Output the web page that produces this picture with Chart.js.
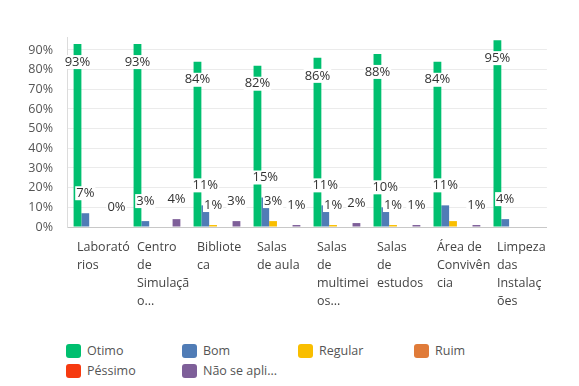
<!DOCTYPE html>
<html>
<head>
<meta charset="utf-8">
<script src="https://cdn.jsdelivr.net/npm/chart.js@4/dist/chart.umd.min.js"></script>
<style>
  body { margin: 0; background: #fff; font-family: "Open Sans", sans-serif; }
  #wrap { position: relative; width: 579px; height: 386px; }
  #chart { position: absolute; left: 0; top: 0; }
  .legend-item { position: absolute; height: 14px; font-size: 12.5px; color: #555; line-height: 14px; white-space: nowrap; }
  .legend-box { position: absolute; left: 0; top: 0; width: 15px; height: 14px; border-radius: 3px; }
  .legend-text { position: absolute; left: 21px; top: 0; }
</style>
</head>
<body>
<div id="wrap">
  <canvas id="chart" width="579" height="312"></canvas>
  <div id="legend"></div>
</div>
<script>
// Categories (already wrapped like the original axis labels)
const categories = [
    ['Laborató', 'rios'],
    ['Centro', 'de', 'Simulaçã', 'o...'],
    ['Bibliote', 'ca'],
    ['Salas', 'de aula'],
    ['Salas', 'de', 'multimei', 'os...'],
    ['Salas', 'de', 'estudos'],
    ['Área de', 'Convivên', 'cia'],
    ['Limpeza', 'das', 'Instalaç', 'ões']
];

// Series values (percent)
const otimo = [93, 93, 84, 82, 86, 88, 84, 95];
const bom = [7, 3, 11, 15, 11, 10, 11, 4];
const regular = [null, null, 1, 3, 1, 1, 3, null];
const ruim = [null, null, null, null, null, null, null, null];
const pessimo = [null, null, null, null, null, null, null, null];
const naoSeAplica = [0, 4, 3, 1, 2, 1, 1, null];

const seriesNames = ['Otimo', 'Bom', 'Regular', 'Ruim', 'Péssimo', 'Não se aplica'];
const seriesValues = [otimo, bom, regular, ruim, pessimo, naoSeAplica];
const seriesColors = ['#00bf6f', '#507cb6', '#f9be00', '#e07b39', '#f63a10', '#7e5f99'];

// y axis ticks
const yTicks = [0, 10, 20, 30, 40, 50, 60, 70, 80, 90];

// value labels that the original leaves out (category:series)
const hiddenLabels = ['6:2'];

const FONT = '"Open Sans", sans-serif';

const valueLabels = {
    id: 'valueLabels',
    afterDatasetsDraw(chart) {
        const ctx = chart.ctx;
        ctx.save();
        ctx.font = '13px ' + FONT;
        ctx.textAlign = 'center';
        ctx.textBaseline = 'middle';
        chart.data.datasets.forEach((ds, i) => {
            const meta = chart.getDatasetMeta(i);
            meta.data.forEach((bar, j) => {
                const v = ds.data[j];
                if (v === null || hiddenLabels.includes(j + ':' + i)) return;
                const text = v + '%';
                // tall bars get the label inside, short bars above
                const y = v > 50 ? bar.y + 18 : bar.y - 20;
                const w = ctx.measureText(text).width + 2;
                ctx.fillStyle = '#fff';
                ctx.fillRect(bar.x - w / 2, y - 7, w, 14);
                ctx.fillStyle = '#333';
                ctx.fillText(text, bar.x, y);
            });
        });
        ctx.restore();
    }
};

const ctx = document.getElementById('chart').getContext('2d');
const chart = new Chart(ctx, {
    type: 'bar',
    data: {
        labels: categories,
        datasets: seriesNames.map((name, i) => ({
            label: name,
            data: seriesValues[i],
            backgroundColor: seriesColors[i],
            barPercentage: 1,
            categoryPercentage: 0.78
        }))
    },
    options: {
        responsive: false,
        animation: false,
        layout: { padding: { top: 37, right: 22, left: 0, bottom: 0 } },
        plugins: {
            legend: { display: false },
            tooltip: { enabled: false }
        },
        scales: {
            x: {
                grid: { display: false, drawTicks: false },
                border: { color: '#c8c8c8' },
                ticks: {
                    align: 'start',
                    labelOffset: -20,
                    padding: 12,
                    maxRotation: 0,
                    autoSkip: false,
                    color: '#444',
                    font: { family: FONT, size: 12.5, lineHeight: 1.42 }
                },
                afterFit: s => { s.height = 85; }
            },
            y: {
                min: 0,
                max: 96.6,
                grid: { color: '#ebebeb', drawTicks: false },
                border: { color: '#dcdcdc' },
                ticks: {
                    padding: 14,
                    color: '#555',
                    font: { family: FONT, size: 12.5 },
                    callback: v => v + '%'
                },
                afterBuildTicks: s => { s.ticks = yTicks.map(v => ({ value: v })); },
                afterFit: s => { s.width = 67; }
            }
        }
    },
    plugins: [valueLabels]
});

// Legend in fixed columns like the original
const legend = document.getElementById('legend');
seriesNames.forEach((name, i) => {
    const item = document.createElement('div');
    item.className = 'legend-item';
    item.style.left = (66 + (i % 4) * 116) + 'px';
    item.style.top = (344 + Math.floor(i / 4) * 20) + 'px';
    const shown = name.length > 11 ? name.slice(0, 11) + '...' : name;
    item.innerHTML = `<span class="legend-box" style="background:${seriesColors[i]}"></span><span class="legend-text">${shown}</span>`;
    legend.appendChild(item);
});
</script>
</body>
</html>
